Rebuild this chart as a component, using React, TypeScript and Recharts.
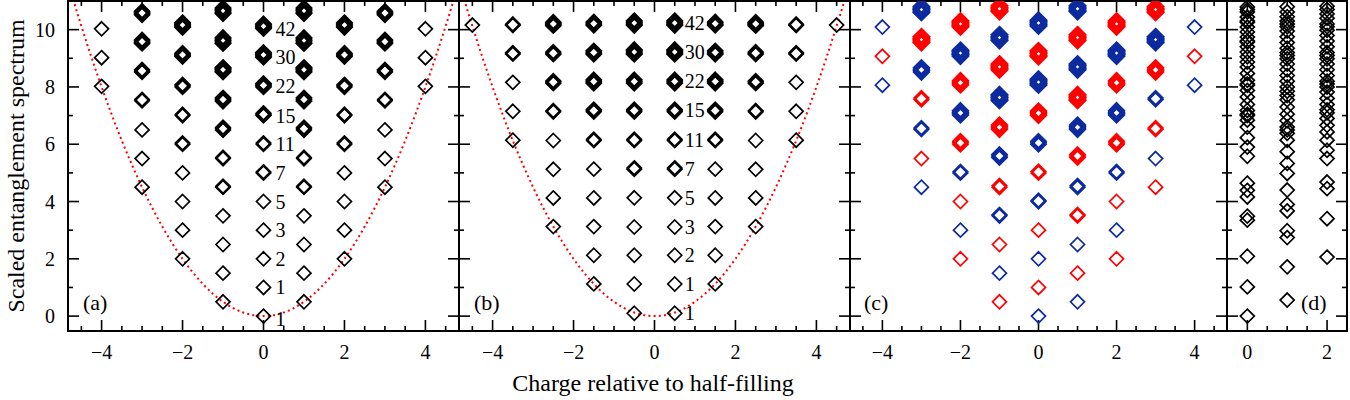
import React from 'react';
import { ScatterChart, Scatter, XAxis, YAxis, ReferenceArea } from 'recharts';

const FONT = '"Liberation Serif", "Times New Roman", serif';
const RED = '#ff0000';
const BLUE = '#0d2b9f';
const INK = '#000000';

// ---------- tick values ----------
const xTicks = [-4.5, -4, -3.5, -3, -2.5, -2, -1.5, -1, -0.5, 0, 0.5, 1, 1.5, 2, 2.5, 3, 3.5, 4, 4.5];
const xTicksD = [0, 0.5, 1, 1.5, 2];
const yTicks = [0, 1, 2, 3, 4, 5, 6, 7, 8, 9, 10];
const yDomain: [number, number] = [-0.52, 11];
const xDomain: [number, number] = [-4.83, 4.83];
const xDomainD: [number, number] = [-0.51, 2.5];

// ---------- panel (a): integer charges ----------
const aQ0 = [0];
const aQ1 = [-1, 1];
const aQ2 = [-2, 2];
const aQ3 = [-3, 3];
const aQ4 = [-4, 4];
const aLev0 = [[0], [1], [2], [3], [4], [5, 5.03], [6, 6.04], [7, 7.04, 7.08], [8, 8.04, 8.08, 8.12], [9.04, 9.08, 9.12, 9.16, 9.2], [10.04, 10.08, 10.12, 10.16, 10.2]];
const aLev1 = [[0.5], [1.5], [2.5], [3.5], [4.5, 4.53], [5.5, 5.54], [6.5, 6.54, 6.58], [7.5, 7.54, 7.58, 7.62], [8.52, 8.56, 8.6, 8.64, 8.68], [9.52, 9.57, 9.62, 9.67, 9.72], [10.56, 10.61, 10.66, 10.71, 10.76]];
const aLev2 = [[2], [3], [4], [5], [6, 6.04], [7, 7.04], [8, 8.04, 8.08], [9.06, 9.1, 9.14, 9.18], [10.08, 10.12, 10.16, 10.2, 10.24]];
const aLev3 = [[4.5], [5.5], [6.5], [7.52, 7.56], [8.52, 8.56, 8.6], [9.52, 9.56, 9.6, 9.64], [10.52, 10.56, 10.6, 10.64]];
const aLev4 = [[8.02], [9.02], [10.03]];

// degeneracy labels (panels a, b)
const degText = ['1', '1', '2', '3', '5', '7', '11', '15', '22', '30', '42'];
const degLevA = [-0.1, 1, 2, 3, 4, 5, 6, 7, 8.04, 9.04, 10.04];
const degLevB = [0.1, 1.12, 2.125, 3.11, 4.13, 5.15, 6.16, 7.19, 8.2, 9.22, 10.23];

// parabola Q^2/2 read through the lowest markers
const parabX = [-4.85, -4.5, -4, -3.5, -3, -2.5, -2, -1.5, -1, -0.5, 0, 0.5, 1, 1.5, 2, 2.5, 3, 3.5, 4, 4.5, 4.85];
const parabY = [11.76, 10.125, 8, 6.125, 4.5, 3.125, 2, 1.125, 0.5, 0.125, 0, 0.125, 0.5, 1.125, 2, 3.125, 4.5, 6.125, 8, 10.125, 11.76];

// ---------- panel (b): half-integer charges ----------
const bQ05 = [-0.5, 0.5];
const bQ15 = [-1.5, 1.5];
const bQ25 = [-2.5, 2.5];
const bQ35 = [-3.5, 3.5];
const bQ45 = [-4.5, 4.5];
const bLev05 = [[0.1], [1.12], [2.125], [3.11], [4.13], [5.13, 5.17], [6.13, 6.17], [7.13, 7.17, 7.21], [8.13, 8.17, 8.21, 8.25], [9.14, 9.18, 9.22, 9.26, 9.3], [10.15, 10.19, 10.23, 10.27, 10.31]];
const bLev15 = [[1.125], [2.125], [3.125], [4.125], [5.13], [6.13, 6.17], [7.13, 7.17, 7.21], [8.13, 8.17, 8.21, 8.25], [9.14, 9.18, 9.22, 9.26], [10.15, 10.19, 10.23, 10.27]];
const bLev25 = [[3.125], [4.125], [5.125], [6.13], [7.13, 7.17], [8.13, 8.17, 8.21], [9.14, 9.18, 9.22], [10.14, 10.18, 10.22, 10.26]];
const bLev35 = [[6.14], [7.15], [8.16], [9.15, 9.19], [10.15, 10.19]];
const bLev45 = [[10.16]];

// ---------- panel (c): two colours ----------
const c0Even = [[0], [2], [4, 4.04], [6, 6.05, 6.1], [8.07, 8.12, 8.17, 8.22, 8.27], [10.13, 10.18, 10.23, 10.28, 10.33]];
const c0Odd = [[1], [3], [5, 5.05], [7.01, 7.06, 7.11, 7.16], [9.06, 9.11, 9.16, 9.21, 9.26]];
const c1Even = [[0.5], [2.5], [4.5, 4.55], [6.52, 6.57, 6.62, 6.67], [8.6, 8.65, 8.7, 8.75, 8.8], [10.63, 10.68, 10.73, 10.78, 10.83]];
const c1Odd = [[1.5], [3.5, 3.54], [5.54, 5.59, 5.64], [7.53, 7.58, 7.63, 7.68, 7.73], [9.62, 9.67, 9.72, 9.77, 9.82]];
const c2Even = [[2], [4], [6, 6.05, 6.1], [8.07, 8.12, 8.17, 8.22], [10.1, 10.15, 10.2, 10.25, 10.3]];
const c2Odd = [[3], [5, 5.04], [7.02, 7.07, 7.12, 7.17], [9.08, 9.13, 9.18, 9.23, 9.28]];
const c3Even = [[4.5], [6.52, 6.57], [8.52, 8.57, 8.62, 8.67], [10.6, 10.65, 10.7, 10.75, 10.8]];
const c3Odd = [[5.5], [7.56, 7.61], [9.55, 9.6, 9.65, 9.7, 9.75]];
const c4Even = [[8.06], [10.09]];
const c4Odd = [[9.07]];

// ---------- panel (d) ----------
const dLev0 = [0, 1.02, 2.09, 3.35, 3.49, 4.16, 4.39, 4.64, 5.58, 5.9, 6.23, 6.6, 6.84, 7.0, 7.05, 7.18, 7.39, 7.65, 7.88, 8.06, 8.1, 8.23, 8.47, 8.7, 8.87, 9.05, 9.22, 9.4, 9.57, 9.6, 9.74, 9.92, 10.09, 10.26, 10.3, 10.44, 10.62, 10.7, 10.79];
const dLev1 = [0.56, 1.72, 2.74, 2.98, 3.67, 3.9, 4.4, 4.98, 5.33, 5.74, 6.14, 6.38, 6.5, 6.6, 6.82, 7.05, 7.3, 7.55, 7.7, 7.85, 8.0, 8.2, 8.4, 8.6, 8.8, 8.98, 9.1, 9.2, 9.35, 9.55, 9.75, 9.95, 10.1, 10.2, 10.3, 10.45, 10.62, 10.8];
const dLev2 = [2.06, 3.4, 4.45, 4.68, 5.5, 5.79, 6.14, 6.43, 6.66, 6.9, 7.1, 7.2, 7.39, 7.6, 7.82, 8.0, 8.1, 8.2, 8.4, 8.6, 8.8, 8.98, 9.1, 9.2, 9.4, 9.6, 9.8, 9.98, 10.1, 10.2, 10.4, 10.55, 10.7, 10.82];

// ---------- helpers ----------
type Pt = { x: number; y: number; k?: number; t?: string; m?: boolean };
const pts = (qs: number[], lev: number[][]): Pt[] =>
  qs.flatMap((x) => lev.flatMap((cl) => cl.map((y) => ({ x, y, k: cl.length }))));
const col = (x: number, ys: number[]): Pt[] => ys.map((y) => ({ x, y, k: 1 }));
const fmt = (v: number) => (v < 0 ? '\u2212' + Math.abs(v) : String(v));
const isMajor = (v: number) => Math.abs(v % 2) < 1e-6;

const diamond = (color: string, bold: number) => (p: any) => {
  const { cx, cy, payload } = p;
  if (cx == null || cy == null) return <g />;
  const h = 7;
  const k = (payload && payload.k) || 1;
  const w = Math.min(1.7 + bold * (k - 1), 3.6);
  return (
    <path
      d={`M${cx},${cy - h}L${cx + h},${cy}L${cx},${cy + h}L${cx - h},${cy}Z`}
      fill="none"
      stroke={color}
      strokeWidth={w}
    />
  );
};
const noShape = () => <g />;
const textShape = (dx: number) => (p: any) => (
  <text x={p.cx + dx} y={p.cy} dy="0.35em" fontFamily={FONT} fontSize={20} fill={INK}>
    {p.payload.t}
  </text>
);
const tickShape = (side: 'b' | 't' | 'l' | 'r') => (p: any) => {
  const { cx, cy, payload } = p;
  if (cx == null || cy == null) return <g />;
  const len = payload.m ? 11 : 5;
  let d = '';
  if (side === 'b') d = `M${cx},${cy}V${cy - len}`;
  if (side === 't') d = `M${cx},${cy}V${cy + len}`;
  if (side === 'l') d = `M${cx},${cy}H${cx + len}`;
  if (side === 'r') d = `M${cx},${cy}H${cx - len}`;
  return <path d={d} stroke={INK} strokeWidth={1.6} fill="none" />;
};

const TOP = 1;
const BOTTOM = 331;
const H = 400;

const xLabelTick = (p: any) => {
  const { x, y, payload } = p;
  const v = payload.value;
  if (!isMajor(v)) return <g />;
  return (
    <text x={x} y={y + 28} textAnchor="middle" fontFamily={FONT} fontSize={20} fill={INK}>
      {fmt(v)}
    </text>
  );
};
const yLabelTick = (p: any) => {
  const { x, y, payload } = p;
  const v = payload.value;
  if (!isMajor(v)) return <g />;
  return (
    <text x={x - 13} y={y} dy="0.35em" textAnchor="end" fontFamily={FONT} fontSize={20} fill={INK}>
      {fmt(v)}
    </text>
  );
};

const S = (key: string, data: Pt[], shape: any, extra: any = {}) => (
  <Scatter key={key} xAxisId="b" yAxisId="l" data={data} shape={shape} isAnimationActive={false} legendType="none" {...extra} />
);

function Panel(props: { x0: number; x1: number; domain: [number, number]; ticks: number[]; first?: boolean; children: React.ReactNode }) {
  const { x0, x1, domain, ticks, first, children } = props;
  const pad = 4;
  const left = first ? 0 : x0 - pad;
  const yW = first ? x0 : 0;
  const ml = first ? 0 : pad;
  const width = x1 + pad - left;
  const bTicks: Pt[] = ticks.map((v) => ({ x: v, y: yDomain[0], m: isMajor(v) }));
  const tTicks: Pt[] = ticks.map((v) => ({ x: v, y: yDomain[1], m: isMajor(v) }));
  const lTicks: Pt[] = yTicks.map((v) => ({ x: domain[0], y: v, m: isMajor(v) }));
  const rTicks: Pt[] = yTicks.map((v) => ({ x: domain[1], y: v, m: isMajor(v) }));
  return (
    <div style={{ position: 'absolute', left, top: 0 }}>
      <ScatterChart width={width} height={H} margin={{ top: TOP, right: pad, bottom: 0, left: ml }}>
        <XAxis xAxisId="b" type="number" dataKey="x" domain={domain} ticks={ticks} interval={0} allowDataOverflow
          height={H - BOTTOM} tickSize={0} tickMargin={0} tickLine={false} axisLine={false} tick={xLabelTick} />
        <YAxis yAxisId="l" type="number" dataKey="y" domain={yDomain} ticks={yTicks} interval={0} allowDataOverflow
          width={yW} tickSize={0} tickMargin={0} tickLine={false} axisLine={false} tick={yLabelTick} />
        <ReferenceArea xAxisId="b" yAxisId="l" x1={domain[0]} x2={domain[1]} y1={yDomain[0]} y2={yDomain[1]}
          fill="none" fillOpacity={0} stroke={INK} strokeWidth={2} ifOverflow="visible" />
        {S('tb', bTicks, tickShape('b'))}
        {S('tt', tTicks, tickShape('t'))}
        {S('tl', lTicks, tickShape('l'))}
        {S('tr', rTicks, tickShape('r'))}
        {children}
      </ScatterChart>
    </div>
  );
}

const parab: Pt[] = parabX.map((x, i) => ({ x, y: parabY[i] }));
const parabLine = (key: string) =>
  S(key, parab, noShape, {
    line: { stroke: RED, strokeWidth: 2, strokeDasharray: '2 3.2', fill: 'none' },
    lineJointType: 'monotoneX',
  });

export default function App() {
  const blackA = diamond(INK, 0.22);
  const red = diamond(RED, 0.42);
  const blue = diamond(BLUE, 0.42);
  const blackD = diamond(INK, 0);

  const dataA = [...pts(aQ0, aLev0), ...pts(aQ1, aLev1), ...pts(aQ2, aLev2), ...pts(aQ3, aLev3), ...pts(aQ4, aLev4)];
  const dataB = [...pts(bQ05, bLev05), ...pts(bQ15, bLev15), ...pts(bQ25, bLev25), ...pts(bQ35, bLev35), ...pts(bQ45, bLev45)];
  const degA: Pt[] = degLevA.map((y, i) => ({ x: 0, y, t: degText[i] }));
  const degB: Pt[] = degLevB.map((y, i) => ({ x: 0.5, y, t: degText[i] }));

  const cBlue = [
    ...pts([0], c0Even), ...pts([-1], c1Odd), ...pts([1], c1Even), ...pts([-2, 2], c2Odd),
    ...pts([-3], c3Even), ...pts([3], c3Odd), ...pts([-4, 4], c4Even),
  ];
  const cRed = [
    ...pts([0], c0Odd), ...pts([-1], c1Even), ...pts([1], c1Odd), ...pts([-2, 2], c2Even),
    ...pts([-3], c3Odd), ...pts([3], c3Even), ...pts([-4, 4], c4Odd),
  ];
  const dataD = [...col(0, dLev0), ...col(1, dLev1), ...col(2, dLev2)];

  return (
    <div style={{ position: 'absolute', left: 0, top: 0, width: 1350, height: H, background: '#fff' }}>
      <Panel x0={68} x1={459} domain={xDomain} ticks={xTicks} first>
        {parabLine('pa')}
        {S('a', dataA, blackA)}
        {S('al', degA, textShape(12))}
      </Panel>
      <Panel x0={459} x1={850} domain={xDomain} ticks={xTicks}>
        {parabLine('pb')}
        {S('b', dataB, blackA)}
        {S('bl', degB, textShape(10))}
      </Panel>
      <Panel x0={850} x1={1227} domain={xDomain} ticks={xTicks}>
        {S('cb', cBlue, blue)}
        {S('cr', cRed, red)}
      </Panel>
      <Panel x0={1227} x1={1347} domain={xDomainD} ticks={xTicksD}>
        {S('d', dataD, blackD)}
      </Panel>
      <svg width={1350} height={H} style={{ position: 'absolute', left: 0, top: 0, pointerEvents: 'none' }}>
        <text x={24} y={166} transform="rotate(-90 24 166)" textAnchor="middle" fontFamily={FONT} fontSize={24} fill={INK}>
          Scaled entanglement spectrum
        </text>
        <text x={653} y={391} textAnchor="middle" fontFamily={FONT} fontSize={24} fill={INK}>
          Charge relative to half-filling
        </text>
        <text x={83} y={310} fontFamily={FONT} fontSize={22} fill={INK}>(a)</text>
        <text x={474} y={310} fontFamily={FONT} fontSize={22} fill={INK}>(b)</text>
        <text x={864} y={310} fontFamily={FONT} fontSize={22} fill={INK}>(c)</text>
        <text x={1301} y={310} fontFamily={FONT} fontSize={22} fill={INK}>(d)</text>
      </svg>
    </div>
  );
}
